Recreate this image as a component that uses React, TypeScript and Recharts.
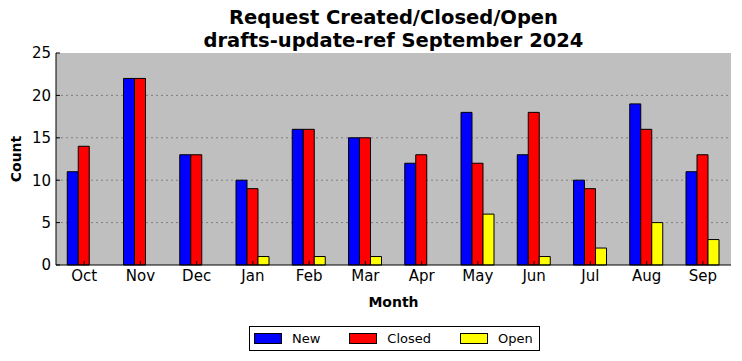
import React from "react";
import {
  BarChart,
  Bar,
  XAxis,
  YAxis,
  CartesianGrid,
} from "recharts";

// months shown on the x axis
const months = ["Oct", "Nov", "Dec", "Jan", "Feb", "Mar", "Apr", "May", "Jun", "Jul", "Aug", "Sep"];

// request counts per month
const newCounts = [11, 22, 13, 10, 16, 15, 12, 18, 13, 10, 19, 11];
const closedCounts = [14, 22, 13, 9, 16, 15, 13, 12, 18, 9, 16, 13];
const openCounts = [0, 0, 0, 1, 1, 1, 0, 6, 1, 2, 5, 3];

const yTicks = [0, 5, 10, 15, 20, 25];

const series = [
  { key: "New", color: "#0000ff" },
  { key: "Closed", color: "#ff0000" },
  { key: "Open", color: "#ffff00" },
];

const data = months.map((m, i) => ({
  month: m,
  New: newCounts[i],
  Closed: closedCounts[i],
  Open: openCounts[i],
}));

const FONT = "'DejaVu Sans', sans-serif";
const tickStyle = { fontSize: 15, fill: "#000", fontFamily: FONT };

export default function App() {
  return (
    <div style={{ position: "absolute", left: 0, top: 0, width: 742, height: 361, fontFamily: FONT, background: "#fff" }}>
      <div
        style={{
          position: "absolute",
          left: 56,
          width: 675,
          top: 6,
          textAlign: "center",
          fontWeight: "bold",
          fontSize: 19.5,
          lineHeight: "23px",
        }}
      >
        Request Created/Closed/Open
        <br />
        drafts-update-ref September 2024
      </div>

      <BarChart
        width={742}
        height={361}
        data={data}
        margin={{ top: 53, right: 11, bottom: 66, left: 16 }}
        barCategoryGap="20%"
        barGap={0}
      >
        <CartesianGrid
          vertical={false}
          fill="#bfbfbf"
          stroke="#808080"
          strokeDasharray="2 3"
          horizontalValues={[5, 10, 15, 20]}
        />
        <XAxis
          dataKey="month"
          height={30}
          tick={tickStyle}
          tickSize={-4}
          tickMargin={9}
          axisLine={{ stroke: "#000" }}
          tickLine={{ stroke: "#000" }}
          interval={0}
        />
        <XAxis
          xAxisId="top"
          orientation="top"
          dataKey="month"
          height={0}
          tickFormatter={() => ""}
          tickSize={-4}
          axisLine={{ stroke: "#000" }}
          tickLine={{ stroke: "#000" }}
          interval={0}
        />
        <YAxis
          width={40}
          domain={[0, 25]}
          ticks={yTicks}
          tick={tickStyle}
          tickSize={-4}
          tickMargin={9}
          axisLine={{ stroke: "#000" }}
          tickLine={{ stroke: "#000" }}
        />
        <YAxis
          yAxisId="right"
          orientation="right"
          width={0}
          domain={[0, 25]}
          ticks={yTicks}
          tickFormatter={() => ""}
          tickSize={-4}
          axisLine={{ stroke: "#000" }}
          tickLine={{ stroke: "#000" }}
        />
        {series.map((s) => (
          <Bar
            key={s.key}
            dataKey={s.key}
            fill={s.color}
            stroke="#000"
            strokeWidth={1}
            isAnimationActive={false}
          />
        ))}
      </BarChart>

      <div
        style={{
          position: "absolute",
          left: 4,
          top: 159,
          transform: "translate(-50%, -50%) rotate(-90deg)",
          marginLeft: 12,
          fontWeight: "bold",
          fontSize: 14,
          whiteSpace: "nowrap",
        }}
      >
        Count
      </div>
      <div
        style={{
          position: "absolute",
          left: 56,
          width: 675,
          top: 294,
          textAlign: "center",
          fontWeight: "bold",
          fontSize: 14,
        }}
      >
        Month
      </div>

      <div
        style={{
          position: "absolute",
          left: 249,
          top: 326,
          width: 289,
          height: 23,
          border: "1px solid #000",
          display: "flex",
          alignItems: "center",
          fontSize: 13,
        }}
      >
        {series.map((s, i) => (
          <div key={s.key} style={{ display: "flex", alignItems: "center", marginLeft: i === 0 ? 4 : 29 }}>
            <div style={{ width: 26, height: 9, background: s.color, border: "1px solid #000" }} />
            <span style={{ marginLeft: 10 }}>{s.key}</span>
          </div>
        ))}
      </div>
    </div>
  );
}
